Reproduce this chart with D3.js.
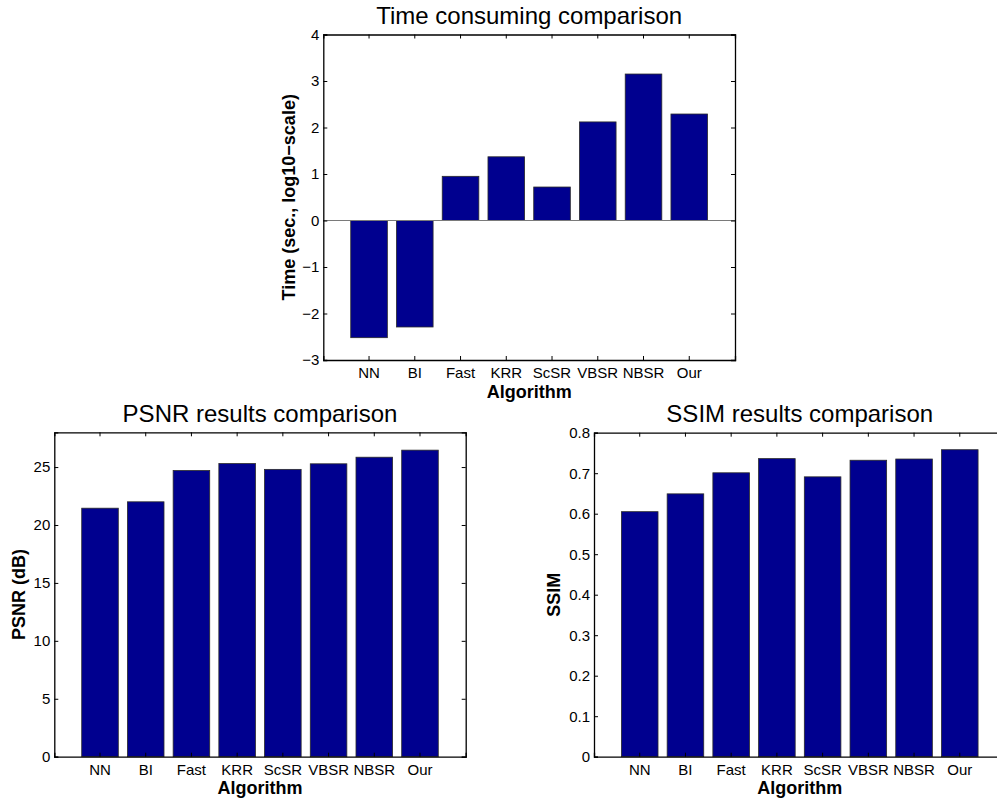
<!DOCTYPE html>
<html>
<head>
<meta charset="utf-8">
<script src="https://cdn.jsdelivr.net/npm/d3@7"></script>
<style>
  body { margin: 0; background: #fff; }
  svg { display: block; font-family: "Liberation Sans", Arial, sans-serif; }
</style>
</head>
<body>
<script>
// data
const algorithms = ["NN", "BI", "Fast", "KRR", "ScSR", "VBSR", "NBSR", "Our"];
const timeLog10 = [-2.52, -2.29, 0.95, 1.37, 0.72, 2.12, 3.15, 2.29];
const psnrValues = [21.45, 22.0, 24.7, 25.3, 24.8, 25.28, 25.85, 26.46];
const ssimValues = [0.605, 0.649, 0.701, 0.736, 0.691, 0.732, 0.735, 0.758];

const timeTicks = [-3, -2, -1, 0, 1, 2, 3, 4];
const psnrTicks = [0, 5, 10, 15, 20, 25];
const ssimTicks = [0, 0.1, 0.2, 0.3, 0.4, 0.5, 0.6, 0.7, 0.8];

var W = 997, H = 801;
var barFill = "#00008f";

var svg = d3.select("body")
  .append("svg")
  .attr("width", W)
  .attr("height", H);

function drawPanel(p) {
  var g = svg.append("g");

  var x = d3.scaleBand()
    .domain(algorithms)
    .range([p.left, p.right])
    .paddingInner(0.2)
    .paddingOuter(0.6);

  var y = d3.scaleLinear()
    .domain(p.domain)
    .range([p.bottom, p.top]);

  // bars
  g.selectAll("rect.bar")
    .data(p.values)
    .enter()
    .append("rect")
    .attr("class", "bar")
    .attr("x", function (d, i) { return x(algorithms[i]); })
    .attr("width", x.bandwidth())
    .attr("y", function (d) { return y(Math.max(0, d)); })
    .attr("height", function (d) { return Math.abs(y(d) - y(0)); })
    .attr("fill", barFill)
    .attr("stroke", "#2a2a2a")
    .attr("stroke-width", 0.8);

  // baseline at zero when there are negatives
  if (p.domain[0] < 0) {
    g.append("line")
      .attr("x1", p.left).attr("x2", p.right)
      .attr("y1", y(0)).attr("y2", y(0))
      .attr("stroke", "#7a7a7a")
      .attr("stroke-width", 1.2);
  }

  // axes, ticks pointing inward like matlab
  var xAxis = d3.axisBottom(x).tickSize(-4).tickPadding(7.8);
  var xTop = d3.axisTop(x).tickSize(-4).tickFormat("");
  var yAxis = d3.axisLeft(y).tickValues(p.ticks).tickSize(-4).tickPadding(4)
    .tickFormat(p.fmt || d3.format("~g"));
  var yRight = d3.axisRight(y).tickValues(p.ticks).tickSize(-4).tickFormat("");

  g.append("g").attr("class", "axis").attr("transform", `translate(0,${p.bottom})`).call(xAxis);
  g.append("g").attr("class", "axis").attr("transform", `translate(0,${p.top})`).call(xTop);
  g.append("g").attr("class", "axis").attr("transform", `translate(${p.left},0)`).call(yAxis);
  g.append("g").attr("class", "axis").attr("transform", `translate(${p.right},0)`).call(yRight);

  g.selectAll(".axis path").attr("stroke", "#000").attr("stroke-width", 1.3);
  g.selectAll(".axis .tick line").attr("stroke", "#000").attr("stroke-width", 1);
  g.selectAll(".axis text").attr("font-size", 15).attr("fill", "#000")
    .attr("font-family", "Liberation Sans, Arial, sans-serif");

  // title
  g.append("text")
    .attr("x", (p.left + p.right) / 2)
    .attr("y", p.top - 10.5)
    .attr("text-anchor", "middle")
    .attr("font-size", 24)
    .text(p.title);

  // x label
  g.append("text")
    .attr("x", (p.left + p.right) / 2)
    .attr("y", p.bottom + 37.5)
    .attr("text-anchor", "middle")
    .attr("font-size", 18)
    .attr("font-weight", "bold")
    .text("Algorithm");

  // y label
  g.append("text")
    .attr("transform", `translate(${p.ylabelX},${(p.top + p.bottom) / 2}) rotate(-90)`)
    .attr("text-anchor", "middle")
    .attr("font-size", 18)
    .attr("font-weight", "bold")
    .text(p.ylabel);
}

drawPanel({
  values: timeLog10, domain: [-3, 4], ticks: timeTicks,
  left: 323.3, right: 735, top: 34.5, bottom: 360,
  title: "Time consuming comparison", ylabel: "Time (sec., log10\u2212scale)", ylabelX: 295
});

drawPanel({
  values: psnrValues, domain: [0, 28], ticks: psnrTicks,
  left: 54.3, right: 465.7, top: 432.3, bottom: 756.7,
  title: "PSNR results comparison", ylabel: "PSNR (dB)", ylabelX: 25
});

drawPanel({
  values: ssimValues, domain: [0, 0.8], ticks: ssimTicks,
  left: 594, right: 1005.5, top: 432.7, bottom: 756.7,
  title: "SSIM results comparison", ylabel: "SSIM", ylabelX: 560
});
</script>
</body>
</html>
